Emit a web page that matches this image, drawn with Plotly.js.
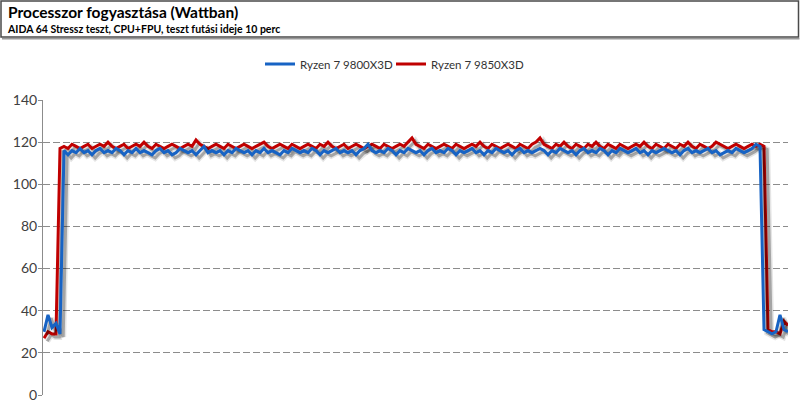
<!DOCTYPE html>
<html><head><meta charset="utf-8">
<script src="https://cdn.plot.ly/plotly-3.0.1.min.js"></script>
<style>
html,body{margin:0;padding:0;background:#fff;}
#chart{width:800px;height:416px;}
</style></head><body>
<div id="chart"></div>
<script>
const seriesNames = ["Ryzen 7 9800X3D", "Ryzen 7 9850X3D"];
const seriesColors = ["#1763c4", "#c00000"];
const yTicks = [0, 20, 40, 60, 80, 100, 120, 140];

const r9800 = [
 30, 38, 32, 34, 29,
 116,114,116,115,117,115,116,114,116,117,
 115,116,115,117,116,114,116,115,117,115,
 116,115,114,116,117,115,116,114,115,117,
 116,115,116,114,116,118,115,116,115,116,
 114,116,115,117,116,115,116,114,116,115,
 117,115,116,115,114,116,115,117,116,115,
 116,115,117,116,114,116,115,116,117,115,
 116,115,116,114,116,117,119,116,115,116,
 115,117,116,114,116,115,117,116,115,116,
 114,116,117,115,116,115,117,116,114,116,
 115,116,117,115,116,114,116,115,117,116,
 115,116,114,116,117,115,116,115,116,117,
 116,114,116,115,117,116,115,116,114,116,
 117,115,116,115,117,116,114,116,115,117,
 116,115,116,117,115,116,114,116,115,116,
 117,116,115,116,114,116,117,115,116,115,
 116,117,115,116,114,115,116,115,117,116,
 115,116,117,119,118,
 31, 30, 29, 30, 38, 31, 30
];

const r9850 = [
 27, 30, 29, 29,
 117,118,117,119,118,117,118,119,117,118,
 119,118,120,118,117,118,119,117,118,119,
 118,120,118,117,119,118,117,118,119,118,
 117,118,119,118,121,119,118,117,118,119,
 118,117,119,118,117,118,119,118,117,118,
 119,120,118,117,118,119,118,117,119,118,
 117,118,119,118,117,119,118,120,118,117,
 118,119,117,118,119,118,117,118,119,118,
 117,119,118,117,118,119,118,120,122,119,
 118,117,119,118,117,118,119,118,117,119,
 118,117,118,119,118,120,118,117,119,118,
 117,118,119,118,117,119,118,117,119,120,
 122,119,118,117,119,118,120,118,117,119,
 118,117,119,118,120,118,117,119,118,117,
 119,118,117,118,119,118,120,118,117,119,
 118,117,119,118,117,119,118,120,118,117,
 119,118,117,118,120,119,118,117,118,119,
 118,117,118,119,118,119,118,
 31, 30, 30, 29, 35, 33
];

const idx = a => a.map((_, i) => i);

// soft drop shadow (derived from the same series, shifted right/down)
function shadow(arr, w, a) {
  return {x: arr.map((_, i) => i + 0.8), y: arr.map(v => v - 1.5), type: 'scatter', mode: 'lines',
    line: {color: 'rgba(0,0,0,' + a + ')', width: w}, hoverinfo: 'skip', showlegend: false};
}

const traces = [
  shadow(r9850, 6, 0.10), shadow(r9850, 3, 0.28),
  {x: idx(r9850), y: r9850, name: seriesNames[1], type: 'scatter', mode: 'lines', legend: 'legend2',
   line: {color: seriesColors[1], width: 3}, hoverinfo: 'skip'},
  shadow(r9800, 6, 0.10), shadow(r9800, 3, 0.28),
  {x: idx(r9800), y: r9800, name: seriesNames[0], type: 'scatter', mode: 'lines', legend: 'legend',
   line: {color: seriesColors[0], width: 3}, hoverinfo: 'skip'}
];

const L = 43, R = 12, T = 100, B = 21, W = 800, H = 416;
const pw = W - L - R, ph = H - T - B;
const px = v => (v - L) / pw;
const py = v => (H - B - v) / ph;

const legendBase = {orientation: 'h', xref: 'container', xanchor: 'left', yref: 'container', y: 1 - 64/H, yanchor: 'middle',
  font: {size: 11.5, color: '#333'}, itemwidth: 30, bgcolor: 'rgba(0,0,0,0)'};

const layout = {
  width: W, height: H,
  margin: {l: L, r: R, t: T, b: B},
  paper_bgcolor: '#fff', plot_bgcolor: '#fff',
  font: {family: 'Lato, "Open Sans", sans-serif', color: '#404040'},
  title: {text: '<b>Processzor fogyasztása (Wattban)</b>', xref: 'container', x: 8/W, xanchor: 'left',
          yref: 'container', y: 1 - 13/H, yanchor: 'middle', font: {size: 15.5, color: '#000', family: 'Lato, sans-serif'}},
  annotations: [{text: '<b>AIDA 64 Stressz teszt, CPU+FPU, teszt futási ideje 10 perc</b>', xref: 'paper', yref: 'paper',
    x: px(5), y: py(21), xanchor: 'left', yanchor: 'top', showarrow: false,
    font: {size: 10.5, color: '#000', family: 'Lato, sans-serif'}}],
  shapes: [
    {type: 'rect', xref: 'paper', yref: 'paper', x0: px(1), x1: px(798.5), y0: py(37), y1: py(1),
     line: {color: '#4a4a4a', width: 1.5}, fillcolor: 'rgba(0,0,0,0)'},
    {type: 'line', xref: 'paper', yref: 'paper', x0: px(2), x1: px(799.5), y0: py(38.8), y1: py(38.8),
     line: {color: '#9a9a9a', width: 1.5}}
  ],
  showlegend: true,
  legend: Object.assign({}, legendBase, {x: 260/W}),
  legend2: Object.assign({}, legendBase, {x: 391/W}),
  xaxis: {range: [-0.25, 186], showgrid: false, zeroline: false, showline: false, showticklabels: false, ticks: '', fixedrange: true},
  yaxis: {range: [0, 140], tickvals: yTicks, ticktext: yTicks.map(String), showgrid: true, gridcolor: '#8c8c8c', gridwidth: 1,
    griddash: '7px,3px', zeroline: false, showline: true, linecolor: '#8c8c8c', linewidth: 1, ticks: 'outside', ticklen: 4,
    tickcolor: '#8c8c8c', tickfont: {size: 14, color: '#404040'}, ticklabelstandoff: -2, fixedrange: true}
};

Plotly.newPlot('chart', traces, layout, {displayModeBar: false, staticPlot: true});
</script>
</body></html>
